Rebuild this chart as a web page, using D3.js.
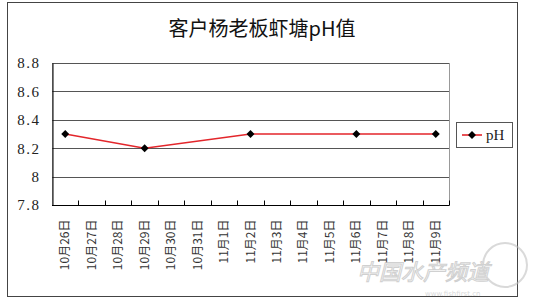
<!DOCTYPE html>
<html>
<head>
<meta charset="utf-8">
<script src="https://cdn.jsdelivr.net/npm/d3@7"></script>
<style>
  body { margin: 0; background: #fff; }
</style>
</head>
<body>
<div id="chart"></div>
<script>
// data
const categories = ["10月26日", "10月27日", "10月28日", "10月29日", "10月30日", "10月31日", "11月1日",
  "11月2日", "11月3日", "11月4日", "11月5日", "11月6日", "11月7日", "11月8日", "11月9日"];
const phDates = ["10月26日", "10月29日", "11月2日", "11月6日", "11月9日"];
const phValues = [8.3, 8.2, 8.3, 8.3, 8.3];
const yTicks = [7.8, 8, 8.2, 8.4, 8.6, 8.8];

const W = 533, H = 306;
const margin = { top: 63, right: 84, bottom: 101, left: 52 },
  width = W - margin.left - margin.right,
  height = H - margin.top - margin.bottom;

const svg = d3.select("#chart")
  .append("svg")
  .attr("width", W)
  .attr("height", H);

// outer chart border
svg.append("rect")
  .attr("x", 7.5).attr("y", 2.5)
  .attr("width", 510).attr("height", 294)
  .attr("fill", "none")
  .attr("stroke", "#444")
  .attr("stroke-width", 1);

// title
svg.append("text")
  .attr("x", 262).attr("y", 36)
  .attr("text-anchor", "middle")
  .attr("font-family", "'Noto Sans CJK SC', sans-serif")
  .attr("font-size", 20)
  .attr("fill", "#111")
  .text("客户杨老板虾塘pH值");

const g = svg.append("g")
  .attr("transform", `translate(${margin.left},${margin.top})`);

const x = d3.scaleBand().domain(categories).range([0, width]);
const y = d3.scaleLinear().domain([7.8, 8.8]).range([height, 0]);

// plot area frame (light gray)
g.append("rect")
  .attr("x", 0.5).attr("y", 0.5)
  .attr("width", width).attr("height", height)
  .attr("fill", "none")
  .attr("stroke", "#999");

// gridlines
g.append("g")
  .selectAll("line")
  .data(yTicks.filter(d => d > 7.8))
  .join("line")
  .attr("x1", 0).attr("x2", width)
  .attr("y1", d => Math.round(y(d)) + 0.5)
  .attr("y2", d => Math.round(y(d)) + 0.5)
  .attr("stroke", "#555");

// y axis
const yAxis = g.append("g")
  .attr("transform", "translate(0.5,0)")
  .call(d3.axisLeft(y).tickValues(yTicks).tickSize(0).tickPadding(12)
    .tickFormat(d => d === 8 ? "8" : d.toFixed(1)));
yAxis.select(".domain").attr("stroke", "#000");
yAxis.selectAll("text")
  .attr("font-family", "'Liberation Serif', serif")
  .attr("font-size", 15)
  .attr("letter-spacing", 1.5)
  .attr("fill", "#222");

// x axis: ticks at category boundaries, pointing up
const xAxis = g.append("g")
  .attr("transform", `translate(0,${Math.round(height) + 0.5})`);
xAxis.append("line")
  .attr("x1", 0).attr("x2", width)
  .attr("stroke", "#000");
xAxis.selectAll("line.tick")
  .data(categories)
  .join("line")
  .attr("class", "tick")
  .attr("x1", d => Math.round(x(d) + x.bandwidth()) + 0.5)
  .attr("x2", d => Math.round(x(d) + x.bandwidth()) + 0.5)
  .attr("y1", 0).attr("y2", -5)
  .attr("stroke", "#000");
xAxis.selectAll("text")
  .data(categories)
  .join("text")
  .attr("transform", d => `translate(${x(d) + x.bandwidth() / 2 + 4},14) rotate(-90)`)
  .attr("text-anchor", "end")
  .attr("font-family", "'Noto Sans CJK SC', sans-serif")
  .attr("font-size", 12)
  .attr("fill", "#333")
  .text(d => d);

// line + markers
const points = phDates.map((d, i) => ({ x: d, y: phValues[i] }));
g.append("path")
  .datum(points)
  .attr("fill", "none")
  .attr("stroke", "#e3262b")
  .attr("stroke-width", 1.6)
  .attr("d", d3.line()
    .x(d => x(d.x) + x.bandwidth() / 2)
    .y(d => y(d.y)));

const diamond = d3.symbol().type(d3.symbolDiamond2).size(40);
g.selectAll(".pt")
  .data(points)
  .join("path")
  .attr("class", "pt")
  .attr("transform", d => `translate(${x(d.x) + x.bandwidth() / 2},${y(d.y)})`)
  .attr("d", diamond)
  .attr("fill", "#000");

// legend
const lg = svg.append("g").attr("transform", "translate(456,122)");
lg.append("rect")
  .attr("x", 0.5).attr("y", 0.5)
  .attr("width", 56).attr("height", 25)
  .attr("fill", "#fff")
  .attr("stroke", "#555");
lg.append("line")
  .attr("x1", 6).attr("x2", 26)
  .attr("y1", 13).attr("y2", 13)
  .attr("stroke", "#e3262b")
  .attr("stroke-width", 1.6);
lg.append("path")
  .attr("transform", "translate(16,13)")
  .attr("d", diamond)
  .attr("fill", "#000");
lg.append("text")
  .attr("x", 30).attr("y", 18)
  .attr("font-family", "'Liberation Serif', serif")
  .attr("font-size", 15)
  .attr("fill", "#222")
  .text("pH");

// faint watermark
const wm = svg.append("g").attr("opacity", 0.55);
wm.append("circle")
  .attr("cx", 505).attr("cy", 265).attr("r", 22)
  .attr("fill", "none").attr("stroke", "#bbb").attr("stroke-width", 2);
wm.append("text")
  .attr("x", 357).attr("y", 280)
  .attr("font-family", "'Noto Sans CJK SC', sans-serif")
  .attr("font-size", 22)
  .attr("font-style", "italic")
  .attr("fill", "#fff")
  .attr("stroke", "#aaa")
  .attr("stroke-width", 1)
  .text("中国水产频道");
wm.append("text")
  .attr("x", 425).attr("y", 296)
  .attr("font-family", "'DejaVu Sans', sans-serif")
  .attr("font-size", 7)
  .attr("fill", "#bbb")
  .text("www.fishfirst.cn");
</script>
</body>
</html>
